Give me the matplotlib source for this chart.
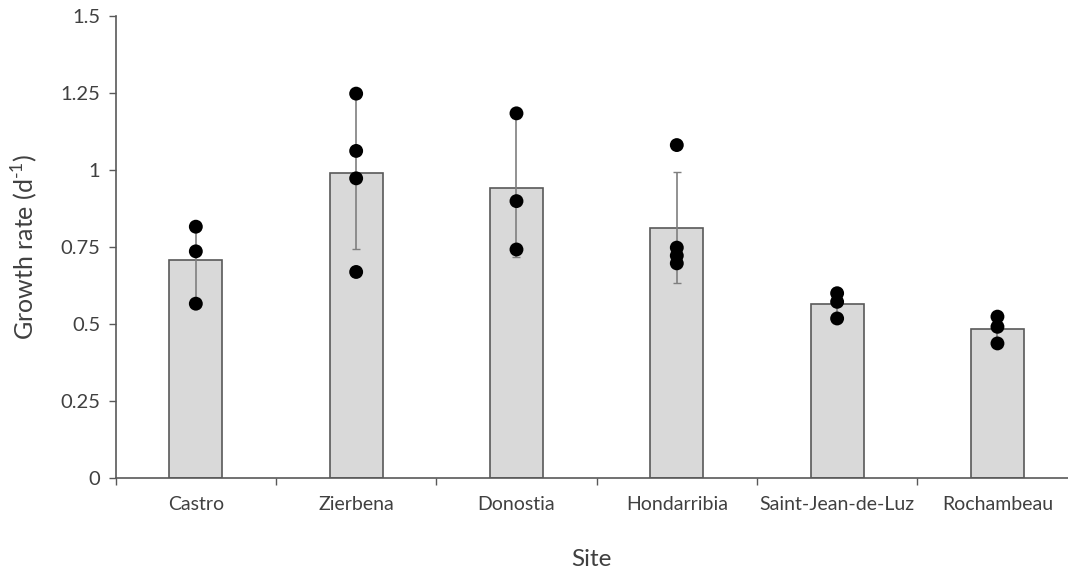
import matplotlib
matplotlib.use('Agg')
import matplotlib.pyplot as plt
import numpy as np

# values
sites = ['Castro', 'Zierbena', 'Donostia', 'Hondarribia',
         'Saint-Jean-de-Luz', 'Rochambeau']
mean_rate = [0.707, 0.989, 0.943, 0.813, 0.564, 0.485]
sd_rate = [0.125, 0.245, 0.225, 0.18, 0.04, 0.045]
replicates = [
    [0.816, 0.736, 0.566],
    [1.248, 1.062, 0.973, 0.669],
    [1.184, 0.899, 0.742],
    [1.081, 0.748, 0.722, 0.697],
    [0.600, 0.572, 0.518],
    [0.524, 0.491, 0.437],
]
yticks = [0, 0.25, 0.5, 0.75, 1, 1.25, 1.5]
ytick_labels = ['0', '0.25', '0.5', '0.75', '1', '1.25', '1.5']

plt.rcParams['font.family'] = ['Lato', 'DejaVu Sans']
plt.rcParams['mathtext.fontset'] = 'custom'
plt.rcParams['mathtext.rm'] = 'Lato'
axis_col = '#595959'
text_col = '#404040'

fig = plt.figure(figsize=(10.68, 5.74), dpi=100)
ax = fig.add_axes([0.1083, 0.1672, 0.8917, 0.8049])

x = np.arange(len(sites))
ax.bar(x, mean_rate, width=0.33, color='#d9d9d9', edgecolor=axis_col,
       linewidth=1.2, zorder=2)
ax.errorbar(x, mean_rate, yerr=sd_rate, fmt='none', ecolor='#7f7f7f',
            elinewidth=1.2, capsize=3, capthick=1, zorder=3)
for i, pts in enumerate(replicates):
    ax.scatter([x[i]] * len(pts), pts, s=100, color='black',
               edgecolors='none', zorder=4)

ax.set_xlim(-0.5, 5.44)
ax.set_ylim(0, 1.5)
ax.set_yticks(yticks)
ax.set_yticklabels(ytick_labels)
ax.set_xticks(x)
ax.set_xticklabels(sites)
ax.set_xticks(np.arange(-0.5, 5.5, 1.0), minor=True)
ax.tick_params(axis='x', which='major', length=0, pad=13,
               labelsize=14, labelcolor=text_col)
ax.tick_params(axis='x', which='minor', length=5, color=axis_col,
               direction='out', width=1)
ax.tick_params(axis='y', length=5, color=axis_col, width=1,
               labelsize=14.5, labelcolor=text_col, pad=6)

for s in ['top', 'right']:
    ax.spines[s].set_visible(False)
for s in ['left', 'bottom']:
    ax.spines[s].set_color(axis_col)
    ax.spines[s].set_linewidth(1.2)

ax.set_ylabel(r'Growth rate (d$^{\text{-1}}$)', fontsize=18, color=text_col,
              labelpad=15)
ax.set_xlabel('Site', fontsize=17.5, color=text_col, labelpad=26)

fig.savefig('out.png', dpi=100)
